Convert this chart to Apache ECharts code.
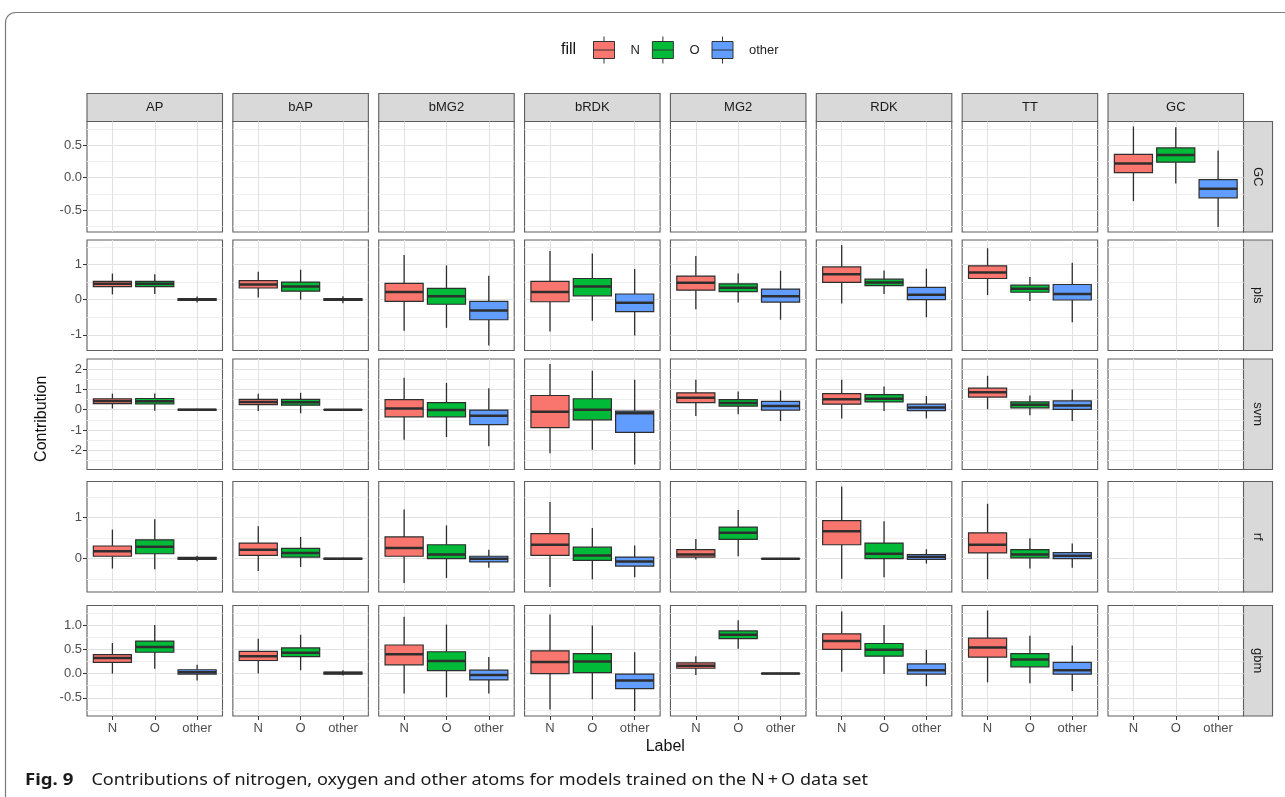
<!DOCTYPE html>
<html>
<head>
<meta charset="utf-8">
<script src="https://cdn.jsdelivr.net/npm/echarts@6/dist/echarts.min.js"></script>
<style>
  html, body { margin: 0; padding: 0; background: #ffffff; }
  #chart { width: 1285px; height: 797px; }
</style>
</head>
<body>
<div id="chart"></div>
<script>
// Facet columns (fingerprints) and facet rows (models)
const fingerprints = ['AP', 'bAP', 'bMG2', 'bRDK', 'MG2', 'RDK', 'TT', 'GC'];
const models = ['GC', 'pls', 'svm', 'rf', 'gbm'];
const atomLabels = ['N', 'O', 'other'];
const atomColors = ['#F8766D', '#00BA38', '#619CFF'];

// Box statistics per fingerprint, per atom label:
// [lower whisker, Q1, median, Q3, upper whisker]; null = no model for that fingerprint
const gcStats = [null, null, null, null, null, null, null,
  [[-0.36, 0.08, 0.22, 0.36, 0.79], [-0.09, 0.24, 0.35, 0.46, 0.78], [-0.76, -0.31, -0.17, -0.03, 0.42]]];

const plsStats = [
  [[0.15, 0.37, 0.45, 0.52, 0.74], [0.16, 0.37, 0.45, 0.52, 0.72], [-0.08, -0.02, 0.0, 0.03, 0.09]],
  [[0.06, 0.33, 0.43, 0.54, 0.79], [0.0, 0.24, 0.37, 0.5, 0.85], [-0.1, -0.02, 0.0, 0.03, 0.1]],
  [[-0.88, -0.05, 0.22, 0.46, 1.27], [-0.8, -0.13, 0.1, 0.32, 0.97], [-1.3, -0.57, -0.31, -0.05, 0.68]],
  [[-0.9, -0.06, 0.22, 0.52, 1.38], [-0.6, 0.11, 0.37, 0.6, 1.31], [-1.02, -0.34, -0.09, 0.16, 0.87]],
  [[-0.27, 0.27, 0.48, 0.67, 1.24], [-0.08, 0.23, 0.34, 0.45, 0.74], [-0.57, -0.07, 0.1, 0.3, 0.82]],
  [[-0.11, 0.49, 0.72, 0.93, 1.55], [0.16, 0.4, 0.49, 0.58, 0.83], [-0.5, 0.0, 0.14, 0.35, 0.88]],
  [[0.13, 0.6, 0.77, 0.96, 1.46], [-0.04, 0.21, 0.31, 0.41, 0.64], [-0.64, -0.01, 0.16, 0.43, 1.05]],
  null];

const svmStats = [
  [[0.06, 0.3, 0.43, 0.54, 0.79], [-0.05, 0.28, 0.42, 0.55, 0.8], [-0.05, -0.02, 0.0, 0.02, 0.05]],
  [[-0.07, 0.25, 0.38, 0.51, 0.78], [-0.18, 0.22, 0.37, 0.51, 0.83], [-0.03, -0.01, 0.0, 0.01, 0.03]],
  [[-1.48, -0.35, 0.06, 0.5, 1.57], [-1.35, -0.35, -0.02, 0.35, 1.32], [-1.8, -0.74, -0.3, -0.02, 1.06]],
  [[-2.15, -0.88, -0.1, 0.7, 2.25], [-1.98, -0.5, 0.0, 0.54, 1.92], [-2.7, -1.12, -0.17, -0.07, 1.48]],
  [[-0.31, 0.35, 0.59, 0.83, 1.48], [-0.23, 0.18, 0.33, 0.5, 0.9], [-0.56, -0.02, 0.18, 0.41, 0.95]],
  [[-0.43, 0.27, 0.51, 0.79, 1.48], [-0.07, 0.38, 0.54, 0.74, 1.14], [-0.43, -0.05, 0.11, 0.27, 0.67]],
  [[0.02, 0.62, 0.86, 1.06, 1.67], [-0.27, 0.09, 0.24, 0.38, 0.7], [-0.56, 0.02, 0.21, 0.43, 0.99]],
  null];

const rfStats = [
  [[-0.24, 0.06, 0.18, 0.31, 0.71], [-0.26, 0.12, 0.29, 0.46, 0.96], [-0.06, -0.02, 0.0, 0.03, 0.07]],
  [[-0.3, 0.08, 0.22, 0.38, 0.79], [-0.2, 0.04, 0.14, 0.25, 0.53], [-0.02, -0.01, 0.0, 0.01, 0.02]],
  [[-0.59, 0.06, 0.26, 0.53, 1.2], [-0.47, 0.0, 0.1, 0.34, 0.81], [-0.22, -0.08, 0.0, 0.06, 0.22]],
  [[-0.69, 0.08, 0.34, 0.61, 1.38], [-0.5, -0.04, 0.08, 0.28, 0.75], [-0.45, -0.18, -0.07, 0.04, 0.32]],
  [[-0.02, 0.04, 0.1, 0.22, 0.48], [0.06, 0.47, 0.63, 0.77, 1.19], [-0.01, 0.0, 0.0, 0.005, 0.01]],
  [[-0.49, 0.34, 0.67, 0.93, 1.76], [-0.45, 0.0, 0.12, 0.38, 0.91], [-0.12, -0.02, 0.04, 0.1, 0.23]],
  [[-0.5, 0.14, 0.34, 0.63, 1.34], [-0.24, 0.02, 0.1, 0.22, 0.5], [-0.22, 0.0, 0.07, 0.15, 0.37]],
  null];

const gbmStats = [
  [[0.0, 0.23, 0.32, 0.39, 0.63], [0.1, 0.44, 0.55, 0.67, 1.0], [-0.14, -0.01, 0.03, 0.08, 0.18]],
  [[0.0, 0.27, 0.36, 0.46, 0.72], [0.07, 0.35, 0.43, 0.53, 0.8], [-0.04, -0.01, 0.01, 0.03, 0.07]],
  [[-0.41, 0.18, 0.4, 0.59, 1.17], [-0.49, 0.06, 0.26, 0.45, 1.01], [-0.41, -0.13, -0.03, 0.07, 0.34]],
  [[-0.74, 0.0, 0.24, 0.47, 1.22], [-0.53, 0.02, 0.25, 0.41, 0.99], [-0.77, -0.31, -0.14, -0.01, 0.44]],
  [[-0.03, 0.11, 0.16, 0.22, 0.36], [0.51, 0.72, 0.8, 0.88, 1.1], [-0.01, 0.0, 0.0, 0.005, 0.01]],
  [[0.04, 0.5, 0.67, 0.82, 1.28], [-0.01, 0.36, 0.49, 0.62, 1.0], [-0.26, -0.01, 0.07, 0.2, 0.49]],
  [[-0.18, 0.34, 0.54, 0.73, 1.3], [-0.2, 0.14, 0.29, 0.41, 0.78], [-0.36, -0.01, 0.07, 0.23, 0.58]],
  null];

// Major tick step of each facet row's y scale
const rowTickSteps = [0.5, 1, 1, 1, 0.5];

const rowStats = [gcStats, plsStats, svmStats, rfStats, gbmStats];

// ---- layout ----
const FONT = '"Liberation Sans", Arial, sans-serif';
const TICK_FONT_SIZE = 13;
const PANEL_LEFT = 87, PANEL_STEP = 145.86, PANEL_W = 135.5;
const ROW_TOPS = [121.5, 240, 359, 481.5, 605.5], PANEL_H = 110.5;
const STRIP_TOP = 93.5, STRIP_RIGHT_W = 29;
const BOX_WIDTH = 0.9;           // fraction of one category step
const X_MIN = 0.4, X_MAX = 3.6;  // discrete scale expanded by 0.6 each side
const STROKE = '#2e2e2e';
const BORDER = '#5e5e5e';

// y range of a facet row: data range expanded by 5% each side
function rowRange(stats) {
  let lo = Infinity, hi = -Infinity;
  stats.forEach(col => col && col.forEach(b => { lo = Math.min(lo, b[0]); hi = Math.max(hi, b[4]); }));
  const pad = (hi - lo) * 0.05;
  return [lo - pad, hi + pad];
}
function multiplesIn(range, step, offset) {
  const out = [];
  const start = Math.ceil((range[0] - offset) / step);
  for (let k = start; offset + k * step <= range[1] + 1e-9; k++) out.push(+(offset + k * step).toFixed(6));
  return out;
}

function renderBox(params, api) {
  const x = api.value(0);
  const lo = api.coord([x, api.value(1)]);
  const q1 = api.coord([x, api.value(2)]);
  const md = api.coord([x, api.value(3)]);
  const q3 = api.coord([x, api.value(4)]);
  const hi = api.coord([x, api.value(5)]);
  const half = api.size([BOX_WIDTH, 0])[0] / 2;
  const fill = api.visual('color');
  return {
    type: 'group',
    children: [
      { type: 'line', shape: { x1: hi[0], y1: hi[1], x2: q3[0], y2: q3[1] }, style: { stroke: STROKE, lineWidth: 1.3 } },
      { type: 'line', shape: { x1: q1[0], y1: q1[1], x2: lo[0], y2: lo[1] }, style: { stroke: STROKE, lineWidth: 1.3 } },
      { type: 'rect', shape: { x: q3[0] - half, y: q3[1], width: half * 2, height: Math.max(q1[1] - q3[1], 0.5) },
        style: { fill: fill, stroke: STROKE, lineWidth: 1.2 } },
      { type: 'line', shape: { x1: md[0] - half, y1: md[1], x2: md[0] + half, y2: md[1] }, style: { stroke: STROKE, lineWidth: 2.5 } }
    ]
  };
}

const grids = [], xAxes = [], yAxes = [], series = [], graphics = [];

models.forEach((model, r) => {
  const stats = rowStats[r];
  const range = rowRange(stats);
  const step = rowTickSteps[r];
  const majors = multiplesIn(range, step, 0);
  const minors = multiplesIn(range, step, step / 2);
  const decimals = step < 1 ? 1 : 0;

  fingerprints.forEach((fp, c) => {
    const g = grids.length;
    const left = PANEL_LEFT + c * PANEL_STEP;
    grids.push({
      left: left, top: ROW_TOPS[r], width: PANEL_W, height: PANEL_H,
      show: true, borderColor: BORDER, borderWidth: 1.1, backgroundColor: '#ffffff'
    });
    const isBottom = r === models.length - 1;
    const isLeft = c === 0;
    xAxes.push({
      type: 'value', gridIndex: g, min: X_MIN, max: X_MAX, position: 'bottom',
      axisLine: { show: false, onZero: false },
      axisTick: { show: isBottom, length: 4, customValues: [1, 2, 3], lineStyle: { color: '#333333' } },
      axisLabel: {
        show: isBottom, customValues: [1, 2, 3], margin: 6,
        formatter: v => atomLabels[Math.round(v) - 1] || '',
        color: '#4d4d4d', fontSize: TICK_FONT_SIZE, fontFamily: FONT
      },
      splitLine: { show: true, lineStyle: { color: '#e2e2e2', width: 1.1 } }
    });
    // major y axis: ticks, labels, major grid lines
    yAxes.push({
      type: 'value', gridIndex: g, min: range[0], max: range[1], position: 'left',
      axisLine: { show: false, onZero: false },
      axisTick: { show: isLeft, length: 4, customValues: majors, lineStyle: { color: '#333333' } },
      axisLabel: {
        show: isLeft, customValues: majors, margin: 5,
        formatter: v => Number(v).toFixed(decimals),
        color: '#4d4d4d', fontSize: TICK_FONT_SIZE, fontFamily: FONT
      },
      splitLine: { show: true, lineStyle: { color: '#e2e2e2', width: 1.1 } }
    });
    // minor y grid lines
    yAxes.push({
      type: 'value', gridIndex: g, min: range[0], max: range[1], position: 'left',
      axisLine: { show: false, onZero: false },
      axisTick: { show: false, customValues: minors },
      axisLabel: { show: false },
      splitLine: { show: true, lineStyle: { color: '#efefef', width: 1 } }
    });

    const boxes = stats[c];
    if (boxes) {
      boxes.forEach((b, k) => {
        series.push({
          type: 'custom', name: atomLabels[k],
          xAxisIndex: g, yAxisIndex: 2 * g,
          itemStyle: { color: atomColors[k] },
          renderItem: renderBox,
          encode: { x: 0, y: [1, 2, 3, 4, 5] },
          clip: false,
          data: [[k + 1].concat(b)]
        });
      });
    }

    // column strip on top
    if (r === 0) {
      graphics.push({
        type: 'rect', shape: { x: left, y: STRIP_TOP, width: PANEL_W, height: ROW_TOPS[0] - STRIP_TOP },
        style: { fill: '#d9d9d9', stroke: BORDER, lineWidth: 1.1 }
      });
      graphics.push({
        type: 'text', x: left + PANEL_W / 2, y: STRIP_TOP + (ROW_TOPS[0] - STRIP_TOP) / 2,
        style: { text: fp, fill: '#1a1a1a', font: TICK_FONT_SIZE + 'px ' + FONT, align: 'center', verticalAlign: 'middle' }
      });
    }
  });

  // row strip on the right
  const stripX = PANEL_LEFT + 7 * PANEL_STEP + PANEL_W;
  graphics.push({
    type: 'rect', shape: { x: stripX, y: ROW_TOPS[r], width: STRIP_RIGHT_W, height: PANEL_H },
    style: { fill: '#d9d9d9', stroke: BORDER, lineWidth: 1.1 }
  });
  graphics.push({
    type: 'text', x: stripX + STRIP_RIGHT_W / 2, y: ROW_TOPS[r] + PANEL_H / 2, rotation: -Math.PI / 2,
    style: { text: model, fill: '#1a1a1a', font: TICK_FONT_SIZE + 'px ' + FONT, align: 'center', verticalAlign: 'middle' }
  });
});

// outer figure frame
graphics.unshift({
  type: 'rect', z: -10, shape: { x: 5.5, y: 12.5, width: 1300, height: 800, r: 10 },
  style: { fill: 'none', stroke: '#7a7a7a', lineWidth: 1.2 }
});
// axis titles
graphics.push({
  type: 'text', x: 42, y: ROW_TOPS[0] + (ROW_TOPS[4] + PANEL_H - ROW_TOPS[0]) / 2, rotation: Math.PI / 2,
  style: { text: 'Contribution', fill: '#111111', font: '16px ' + FONT, align: 'center', verticalAlign: 'middle' }
});
graphics.push({
  type: 'text', x: PANEL_LEFT + (7 * PANEL_STEP + PANEL_W) / 2, y: 747,
  style: { text: 'Label', fill: '#111111', font: '16px ' + FONT, align: 'center', verticalAlign: 'middle' }
});
// legend title
graphics.push({
  type: 'text', x: 561, y: 50,
  style: { text: 'fill', fill: '#111111', font: '16px ' + FONT, align: 'left', verticalAlign: 'middle' }
});
// caption
graphics.push({
  type: 'text', x: 25, y: 780, scaleX: 1.13,
  style: {
    text: '{b|Fig. 9}{n|Contributions of nitrogen, oxygen and other atoms for models trained on the N\u2009+\u2009O data set}',
    verticalAlign: 'middle',
    rich: {
      b: { font: 'bold 16.5px "Noto Sans", sans-serif', fill: '#1a1a1a' },
      n: { font: '16px "Noto Sans", sans-serif', fill: '#1a1a1a', padding: [0, 0, 0, 16] }
    }
  }
});

const chart = echarts.init(document.getElementById('chart'), null, { renderer: 'canvas' });
chart.setOption({
  animation: false,
  backgroundColor: '#ffffff',
  legend: {
    left: 588, top: 31,
    data: atomLabels,
    selectedMode: false,
    itemWidth: 21, itemHeight: 27, itemGap: 12,
    icon: 'path://M10.5,0V5M0,5H21V22H0ZM0,13.5H21M10.5,22V27',
    itemStyle: { borderColor: '#333333', borderWidth: 1 },
    textStyle: { fontSize: 13, color: '#222222', fontFamily: FONT, padding: [0, 0, 0, 11] }
  },
  grid: grids,
  xAxis: xAxes,
  yAxis: yAxes,
  series: series,
  graphic: { elements: graphics }
});
</script>
</body>
</html>
